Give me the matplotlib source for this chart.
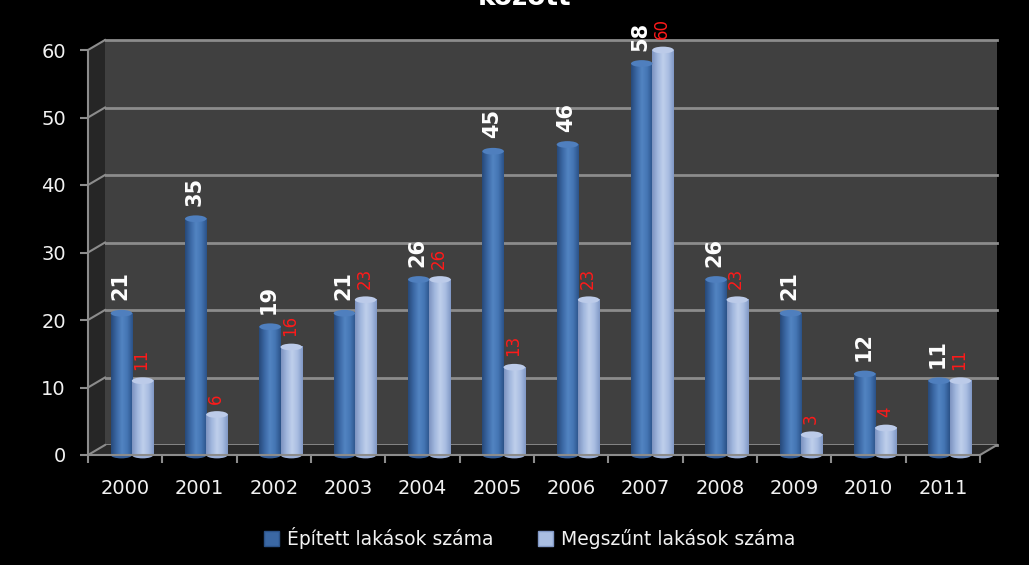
import numpy as np
import matplotlib
matplotlib.use('Agg')
import matplotlib.pyplot as plt
from matplotlib.patches import Polygon, Ellipse, Patch
from matplotlib.lines import Line2D
from matplotlib.colors import LinearSegmentedColormap

years = ['2000', '2001', '2002', '2003', '2004', '2005',
         '2006', '2007', '2008', '2009', '2010', '2011']
epitett = [21, 35, 19, 21, 26, 45, 46, 58, 26, 21, 12, 11]
megszunt = [11, 6, 16, 23, 26, 13, 23, 60, 23, 3, 4, 11]
series_names = ['Épített lakások száma', 'Megszűnt lakások száma']

W, H = 1029, 565
fig = plt.figure(figsize=(W / 100, H / 100), dpi=100, facecolor='black')


def fx(px):
    return px / W


def fy(py):
    return 1 - py / H


# back wall (offset for the 3D look)
dx, dy = 17, 10
x0, x1 = 88, 980
ybot, ytop = 455, 50
back = fig.add_axes([fx(x0 + dx), fy(ybot - dy), fx(x1 - x0), (ybot - ytop) / H])
back.set_facecolor('#404040')
back.set_xlim(-0.5, 11.5)
back.set_ylim(0, 60)
back.set_xticks([])
back.set_yticks([])
for s in back.spines.values():
    s.set_visible(False)
for g in range(0, 70, 10):
    back.axhline(g, color='#8c8c8c', lw=2, zorder=1, clip_on=False)
back.set_zorder(0)

# side wall and floor
side = Polygon([(fx(x0), fy(ybot)), (fx(x0 + dx), fy(ybot - dy)),
                (fx(x0 + dx), fy(ytop - dy)), (fx(x0), fy(ytop))],
               closed=True, transform=fig.transFigure, facecolor='#262626',
               edgecolor='none', zorder=0.5)
floor = Polygon([(fx(x0), fy(ybot)), (fx(x0 + dx), fy(ybot - dy)),
                 (fx(x1 + dx), fy(ybot - dy)), (fx(x1), fy(ybot))],
                closed=True, transform=fig.transFigure, facecolor='#2b2b2b',
                edgecolor='none', zorder=0.5)
fig.patches.extend([side, floor])
for g in range(0, 70, 10):
    yy = ybot - g * (ybot - ytop) / 60
    fig.lines.append(Line2D([fx(x0), fx(x0 + dx)], [fy(yy), fy(yy - dy)],
                            transform=fig.transFigure, color='#8c8c8c', lw=1.5, zorder=0.6))
fig.lines.append(Line2D([fx(x1), fx(x1 + dx)], [fy(ybot), fy(ybot - dy)],
                        transform=fig.transFigure, color='#8c8c8c', lw=1.5, zorder=0.6))

ax = fig.add_axes([fx(x0), fy(ybot), fx(x1 - x0), (ybot - ytop) / H])
ax.set_zorder(1)
ax.patch.set_visible(False)

blue_cmap = LinearSegmentedColormap.from_list(
    'b', ['#27497a', '#3b68a4', '#5284c2', '#4475b3', '#2b5288'])
light_cmap = LinearSegmentedColormap.from_list(
    'l', ['#7d93c0', '#a0b6dd', '#bfcfeb', '#aabee2', '#8198c6'])
grad = np.linspace(0, 1, 64).reshape(1, -1)

w = 0.29
cap = 1.0
for i in range(len(years)):
    for val, off, cmap, top_c, bot_c in [
            (epitett[i], -0.05, blue_cmap, '#4f7fbe', '#365f99'),
            (megszunt[i], 0.235, light_cmap, '#bccbe9', '#9cb0d8')]:
        xc = i + off
        ax.add_patch(Ellipse((xc, 0), w, cap, facecolor=bot_c, edgecolor='none',
                             zorder=2, clip_on=False))
        ax.imshow(grad, extent=(xc - w / 2, xc + w / 2, 0, val), cmap=cmap,
                  aspect='auto', zorder=2.1, interpolation='bilinear')
        ax.add_patch(Ellipse((xc, val), w, cap, facecolor=top_c, edgecolor='none',
                             zorder=2.2, clip_on=False))

    ax.text(i - 0.07, epitett[i] + 1.9, str(epitett[i]), rotation=90, ha='center',
            va='bottom', color='white', fontsize=15, fontweight='bold', clip_on=False)
    ax.text(i + 0.22, megszunt[i] + 1.6, str(megszunt[i]), rotation=90, ha='center',
            va='bottom', color='#ff1a1a', fontsize=12, clip_on=False)

ax.set_xlim(-0.5, 11.5)
ax.set_ylim(0, 60)
ax.set_xticks(range(len(years)))
ax.set_xticklabels(years)
ax.set_xticks(np.arange(-0.5, 12, 1), minor=True)
ax.set_yticks(range(0, 70, 10))
ax.tick_params(axis='x', which='major', length=0, pad=17, labelsize=14, labelcolor='#f2f2f2')
ax.tick_params(axis='x', which='minor', length=6, width=1.5, color='#8c8c8c')
ax.tick_params(axis='y', length=6, width=1.5, color='#8c8c8c', pad=10,
               labelsize=14, labelcolor='#f2f2f2')
for side_name in ['top', 'right']:
    ax.spines[side_name].set_visible(False)
for side_name in ['left', 'bottom']:
    ax.spines[side_name].set_color('#8c8c8c')
    ax.spines[side_name].set_linewidth(1.5)

# title is cut off at the top edge in the source image
fig.text(0.51, fy(5), 'között', ha='center', va='baseline', color='white',
         fontsize=19, fontweight='bold')

handles = [Patch(facecolor='#3b68a4', edgecolor='#2b5288'),
           Patch(facecolor='#aabee2', edgecolor='#8198c6')]
fig.legend(handles, series_names, loc='center', bbox_to_anchor=(0.515, fy(538)),
           ncol=2, frameon=False, fontsize=13.5, labelcolor='#f2f2f2',
           handlelength=0.8, handleheight=0.9, handletextpad=0.4, columnspacing=2.4)

fig.savefig('out.png', dpi=100, facecolor='black')
